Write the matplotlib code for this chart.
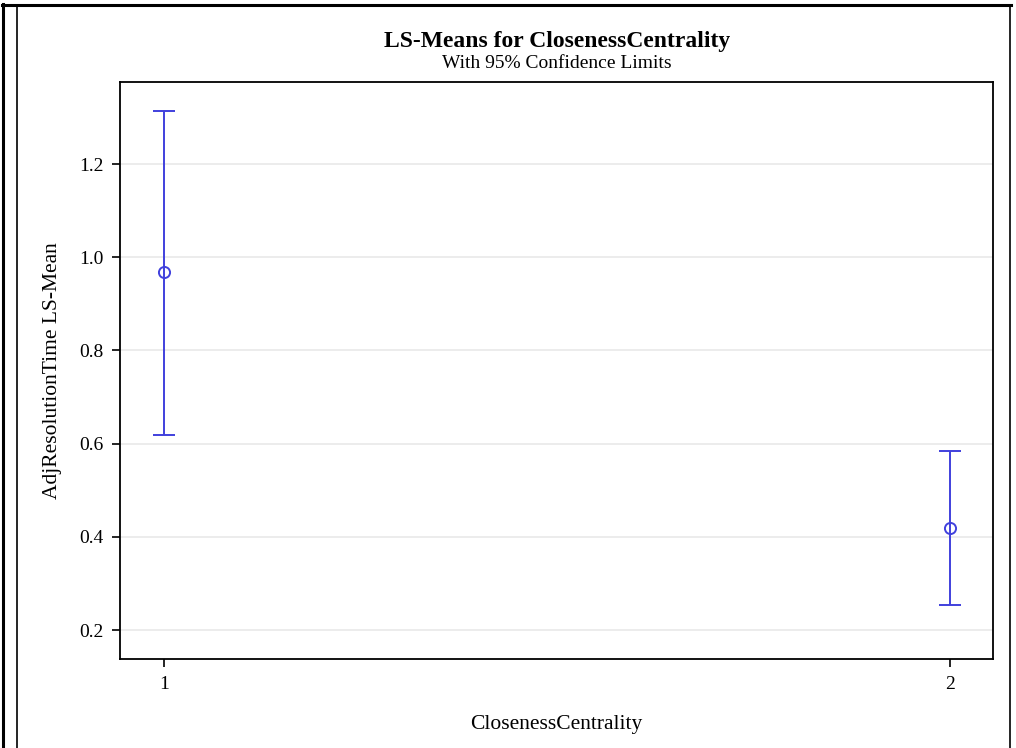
import matplotlib
matplotlib.use("Agg")
import matplotlib.pyplot as plt
from matplotlib.lines import Line2D

# LS-means with 95% confidence limits
groups = [1, 2]
lsmeans = [0.968, 0.419]
lower = [0.619, 0.254]
upper = [1.314, 0.584]
y_ticks = [0.2, 0.4, 0.6, 0.8, 1.0, 1.2]

plt.rcParams['font.family'] = ['Liberation Serif', 'DejaVu Serif']

fig = plt.figure(figsize=(10.16, 7.48), dpi=100)
ax = fig.add_axes([120 / 1016, 1 - 659 / 748, (993 - 120) / 1016, (659 - 82) / 748])

color = "#4040DD"
err_lo = [m - l for m, l in zip(lsmeans, lower)]
err_hi = [u - m for m, u in zip(lsmeans, upper)]
ax.errorbar(groups, lsmeans, yerr=[err_lo, err_hi], fmt='o', color=color,
            mfc='none', mec=color, markersize=8, mew=1.4, elinewidth=1.4,
            capsize=8, capthick=1.4)

ax.set_xlim(0.944, 2.055)
ax.set_ylim(0.138, 1.376)
ax.set_xticks(groups)
ax.set_yticks(y_ticks)
ax.set_yticklabels([f"{v:.1f}" for v in y_ticks])
ax.yaxis.grid(True, color='#EBEBEB', linewidth=1.3)
ax.set_axisbelow(True)
ax.tick_params(direction='out', length=6, width=1.2, labelsize=14, pad=6)
for s in ax.spines.values():
    s.set_linewidth(1.3)

ax.set_xlabel("ClosenessCentrality", fontsize=15.5, labelpad=16)
ax.set_ylabel("AdjResolutionTime LS-Mean", fontsize=15.5, labelpad=12)

fig.text(557 / 1016, 1 - 42 / 748, "LS-Means for ClosenessCentrality",
         ha='center', va='center', fontsize=17, fontweight='bold')
fig.text(557 / 1016, 1 - 63 / 748, "With 95% Confidence Limits",
         ha='center', va='center', fontsize=14)

# page frame lines
W, H = 1016, 748
fig.add_artist(Line2D([3 / W, 3 / W], [0, 1 - 4 / H], color='black', lw=2.2))
fig.add_artist(Line2D([2 / W, 1011 / W], [1 - 5 / H, 1 - 5 / H], color='black', lw=2.2))
fig.add_artist(Line2D([17 / W, 17 / W], [0, 1 - 5 / H], color='black', lw=1.2))
fig.add_artist(Line2D([1010 / W, 1010 / W], [0, 1 - 5 / H], color='black', lw=1.2))

fig.savefig("out.png", dpi=100)
